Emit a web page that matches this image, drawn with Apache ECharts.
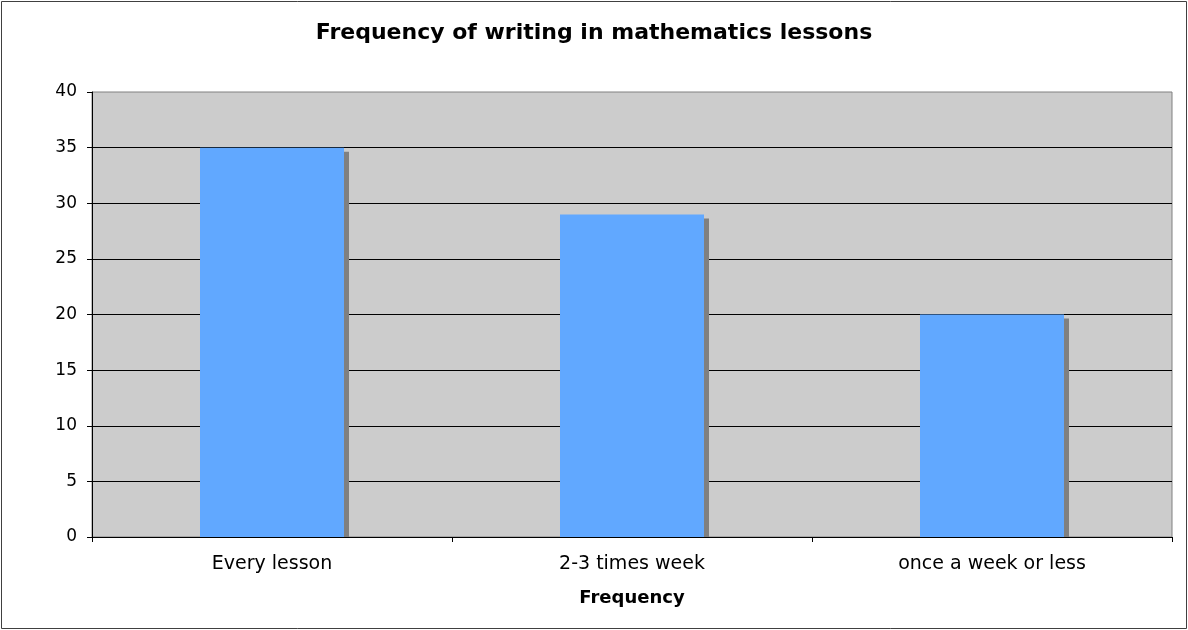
<!DOCTYPE html>
<html>
<head>
<meta charset="utf-8">
<title>Frequency of writing in mathematics lessons</title>
<script src="https://cdn.jsdelivr.net/npm/echarts@6/dist/echarts.min.js"></script>
<style>
  body { margin: 0; background: #fff; }
  #chart { width: 1188px; height: 630px; }
</style>
</head>
<body>
<div id="chart"></div>
<script>
// values
var categories = ['Every lesson', '2-3 times week', 'once a week or less'];
var counts = [35, 29, 20];
var yTicks = [0, 5, 10, 15, 20, 25, 30, 35, 40];

var font = 'DejaVu Sans, Verdana, sans-serif';
var chart = echarts.init(document.getElementById('chart'));

chart.setOption({
  backgroundColor: '#ffffff',
  animation: false,
  title: {
    text: 'Frequency of writing in mathematics lessons',
    left: 'center',
    top: 17,
    textStyle: { fontFamily: font, fontSize: 22, fontWeight: 'bold', color: '#000' }
  },
  graphic: [{
    type: 'rect',
    shape: { x: 1.5, y: 1.5, width: 1185, height: 627 },
    style: { fill: null, stroke: '#404040', lineWidth: 1 },
    z: 100
  }],
  grid: {
    left: 92, right: 16, top: 92, bottom: 93,
    show: true,
    backgroundColor: '#cccccc',
    borderColor: '#808080',
    borderWidth: 1
  },
  xAxis: {
    type: 'category',
    data: categories,
    name: 'Frequency',
    nameLocation: 'middle',
    nameGap: 52,
    nameTextStyle: { fontFamily: font, fontSize: 18, fontWeight: 'bold', color: '#000' },
    axisLine: { lineStyle: { color: '#000', width: 1 } },
    axisTick: { show: true, length: 5, lineStyle: { color: '#000' } },
    axisLabel: { fontFamily: font, fontSize: 19, color: '#000', margin: 18 },
    splitLine: { show: false }
  },
  yAxis: {
    type: 'value',
    min: yTicks[0],
    max: yTicks[yTicks.length - 1],
    interval: yTicks[1] - yTicks[0],
    axisLine: { show: true, lineStyle: { color: '#000', width: 1 } },
    axisTick: { show: true, length: 5, lineStyle: { color: '#000' } },
    axisLabel: { fontFamily: font, fontSize: 17, color: '#000', margin: 15 },
    splitLine: { show: true, showMaxLine: false, lineStyle: { color: '#000', width: 1 } }
  },
  series: [
    {
      // drop shadow behind each bar
      type: 'custom',
      z: 1,
      silent: true,
      data: counts.map(function (v, i) { return [i, v]; }),
      renderItem: function (params, api) {
        var top = api.coord([api.value(0), api.value(1)]);
        var base = api.coord([api.value(0), 0]);
        var w = api.size([1, 0])[0] * 0.4;
        return {
          type: 'rect',
          shape: { x: top[0] - w / 2 + 5, y: top[1] + 4, width: w, height: base[1] - top[1] - 4 },
          style: { fill: '#808080' }
        };
      }
    },
    {
      type: 'bar',
      z: 2,
      data: counts,
      barWidth: '40%',
      itemStyle: { color: '#61a8ff' }
    }
  ]
});
</script>
</body>
</html>
